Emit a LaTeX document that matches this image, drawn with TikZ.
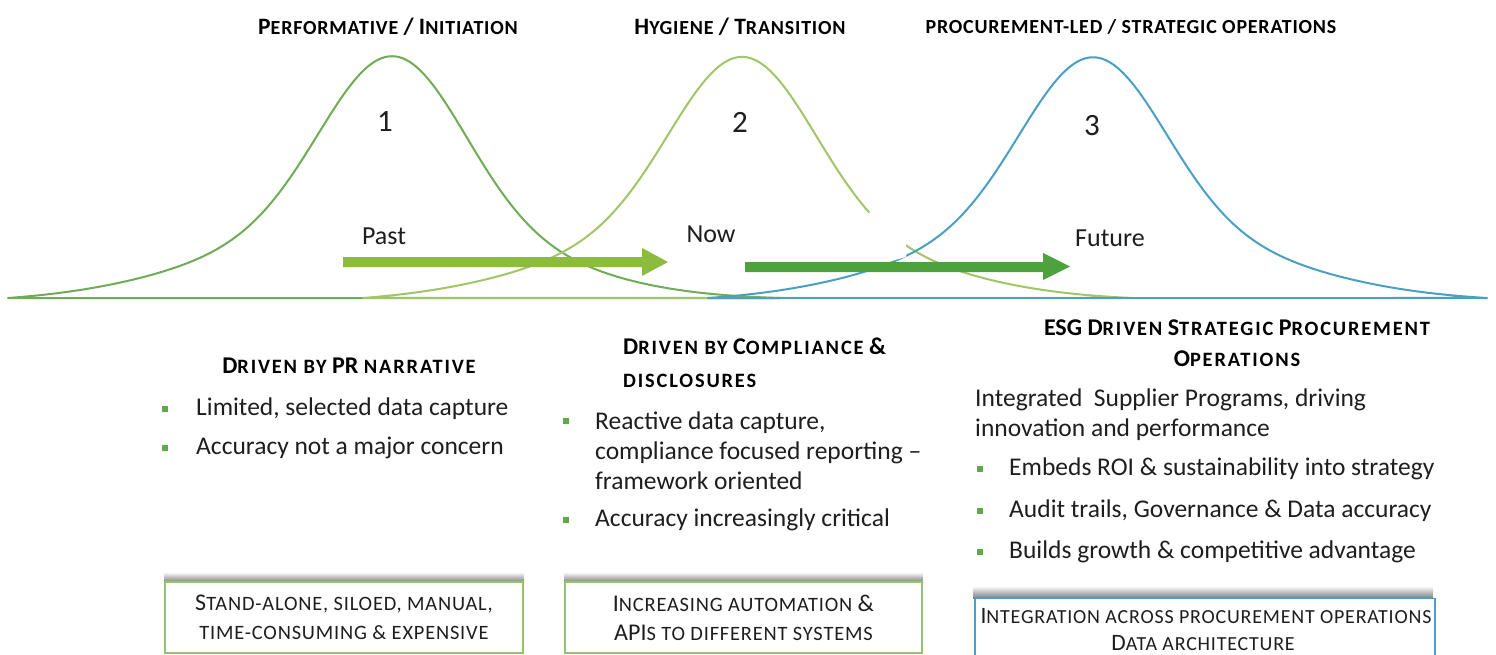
\documentclass[tikz,border=0pt]{standalone}
\usepackage{fontspec}
\setmainfont{Carlito}
\newfontfamily\scf[Scale=0.85, LetterSpace=4]{Carlito}
\newfontfamily\scb[Scale=0.85, LetterSpace=9]{Carlito}
\newcommand\SC[1]{{\scf #1}}
\newcommand\SCB[1]{{\scb #1}}
\definecolor{cone}{RGB}{112,172,86}
\definecolor{ctwo}{RGB}{160,198,104}
\definecolor{cthree}{RGB}{74,160,196}
\definecolor{arone}{RGB}{140,188,62}
\definecolor{artwo}{RGB}{78,162,62}
\definecolor{bulg}{RGB}{92,170,72}
\definecolor{txt}{RGB}{30,30,30}
\definecolor{boxg}{RGB}{150,196,110}
\tikzset{
  curve/.style={line width=2pt, line join=round},
  ttl/.style={font=\fontsize{23.5}{26}\selectfont\bfseries, text=black, inner sep=0},
  num/.style={font=\fontsize{31}{36}\selectfont, text=txt, inner sep=0},
  tlab/.style={font=\fontsize{26}{30}\selectfont, text=txt, inner sep=0},
  head/.style={font=\fontsize{24}{35}\selectfont\bfseries, text=black, inner sep=0},
  body/.style={font=\fontsize{25.5}{30}\selectfont, text=txt, anchor=west, inner sep=0, align=left},
  bul/.style={fill=bulg, minimum size=6.5pt, inner sep=0},
  boxn/.style={line width=1.3pt, fill=white, align=center, inner sep=0,
     font=\fontsize{24}{29}\selectfont, text=txt},
  boxt/.style={font=\fontsize{23.5}{28}\selectfont, text=txt, inner sep=0, anchor=base},
  declare function={
    bl(\x,\s)=162*exp(-0.5*(\x/70)^2)+83*exp(-0.5*(\x/\s)^2);
  },
}
\begin{document}
\begin{tikzpicture}[x=1pt,y=-1pt]
\useasboundingbox[fill=white] (0,0) rectangle (1496,655);

% titles
\node[ttl] (t1) at (388,27) {P\SC{ERFORMATIVE} / I\SC{NITIATION}};
\node[ttl] (t2) at (740,27) {H\SC{YGIENE} / T\SC{RANSITION}};
\node[ttl] (t3) at (1131,27) {\SC{PROCUREMENT-LED / STRATEGIC OPERATIONS}};

% curves (bell shapes on a common baseline)
\draw[curve, cone] plot[domain=-384:388, samples=220]
  ({392+\x},{298-bl(\x,(\x<0?160:140))+4.66+(1.78-4.66)*(\x+384)/772}) -- cycle;
\draw[curve, ctwo] plot[domain=-379:390, samples=220]
  ({742+\x},{298-bl(\x,(\x<0?160:150))+5.0+(2.8-5.0)*(\x+379)/769}) -- cycle;
\draw[curve, cthree] plot[domain=-385:394, samples=220]
  ({1093+\x},{298-bl(\x,160)+4.6+(4.0-4.6)*(\x+385)/779}) -- cycle;
% white break where curves pass behind one another
\fill[white] (861,221) -- (873,209) -- (906,244) -- (906,257) -- (884,263)
  -- (870,263) -- cycle;

% numbers and time labels
\node[num] (n1) at (385,122) {1};
\node[num] (n2) at (740,122) {2};
\node[num] (n3) at (1092,126) {3};
\node[tlab] (past) at (384,236) {Past};
\node[tlab] (now) at (711,234) {Now};
\node[tlab] (fut) at (1110,238) {Future};

% block arrows
\coordinate (a1s) at (343,262);
\coordinate (a1e) at (668,262);
\fill[arone] (a1s) ++(0,-5) -- (642,257) -- (642,248) -- (a1e) -- (642,276)
  -- (642,267) -- (343,267) -- cycle;
\coordinate (a2s) at (745,267);
\coordinate (a2e) at (1070,266.5);
\fill[artwo] (a2s) ++(0,-5) -- (1043,262) -- (1043,253) -- (a2e) -- (1043,280)
  -- (1043,272) -- (745,272) -- cycle;

% column 1
\node[head] (h1) at (349,366) {D\SCB{RIVEN BY} PR \SCB{NARRATIVE}};
\node[bul] (b11) at (165,409) {};
\node[body] (l11) at (196,409) {Limited, selected data capture};
\node[bul] (b12) at (165,448) {};
\node[body] (l12) at (196,448) {Accuracy not a major concern};

% column 2
\node[head, anchor=west] (h2a) at (623,346) {D\SCB{RIVEN BY} C\SCB{OMPLIANCE} \&};
\node[head, anchor=west] (h2b) at (623,381) {\SCB{DISCLOSURES}};
\node[bul] (b21) at (566,421) {};
\node[body, anchor=north west] (l21) at (595,412) {Reactive data capture,\\compliance focused reporting --\\framework oriented};
\node[bul] (b22) at (566,520) {};
\node[body] (l22) at (595,520) {Accuracy increasingly critical};

% column 3
\node[head] (h3a) at (1237,328) {ESG D\SCB{RIVEN} S\SCB{TRATEGIC} P\SCB{ROCUREMENT}};
\node[head] (h3b) at (1237,359) {O\SCB{PERATIONS}};
\node[body, anchor=north west] (p3) at (975,389) {Integrated\ \ Supplier Programs, driving\\innovation and performance};
\node[bul] (b31) at (980,469) {};
\node[body] (l31) at (1009,469) {Embeds ROI \& sustainability into strategy};
\node[bul] (b32) at (980,511) {};
\node[body] (l32) at (1009,511) {Audit trails, Governance \& Data accuracy};
\node[bul] (b33) at (980,552) {};
\node[body] (l33) at (1009,552) {Builds growth \& competitive advantage};

% bottom boxes with shadows
\shade[top color=white, bottom color=black!50] (164,572) rectangle (524,582);
\shade[top color=white, bottom color=black!50] (564,572) rectangle (923,582);
\shade[top color=white, bottom color=black!50] (973,586) rectangle (1433,598);
\node[boxn, draw=boxg, minimum width=358pt, minimum height=71pt] (x1) at (344,617.5)
  {S\SC{TAND-ALONE, SILOED, MANUAL,}\\\SC{TIME-CONSUMING \& EXPENSIVE}};
\node[boxn, draw=boxg, minimum width=357pt, minimum height=71pt] (x2) at (743.5,617.5)
  {I\SC{NCREASING AUTOMATION} \&\\API\SC{S TO DIFFERENT SYSTEMS}};
\node[boxn, draw=cthree, minimum width=460pt, minimum height=80pt, anchor=north] (x3) at (1205,598)
  {};
\node[boxt] (x3a) at (1206,623) {I\SC{NTEGRATION ACROSS PROCUREMENT OPERATIONS}};
\node[boxt] (x3b) at (1203,650) {D\SC{ATA ARCHITECTURE}};
\end{tikzpicture}
\end{document}
